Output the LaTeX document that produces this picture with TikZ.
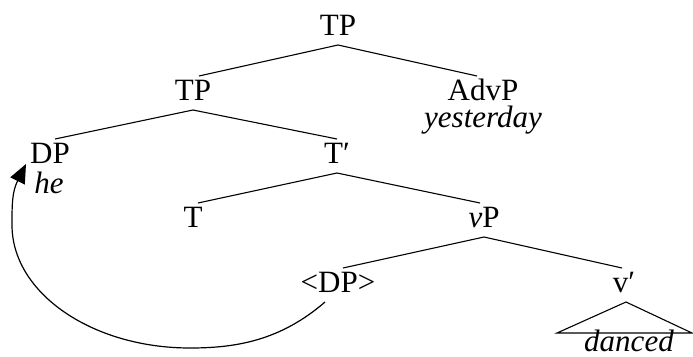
\documentclass[tikz,border=0pt]{standalone}
\usepackage{fontspec}
\setmainfont{Liberation Serif}
\usetikzlibrary{arrows.meta}
\begin{document}
\begin{tikzpicture}[x=1pt,y=-1pt,
  lab/.style={inner sep=0pt, outer sep=3pt, text height=21pt, text depth=7pt, anchor=base, font=\fontsize{31}{36}\selectfont},
  leaf/.style={lab, text depth=1pt},
  sub/.style={inner sep=0pt, anchor=base, font=\fontsize{31}{36}\selectfont\itshape},
  branch/.style={line width=1.1pt},
  move/.style={line width=1.2pt, -{Triangle[length=19pt,width=16pt]}}
]
\useasboundingbox (0,0) rectangle (693,356);
\node[lab] (tp1) at (338,35) {TP};
\node[lab] (tp2) at (193,100) {TP};
\node[leaf] (advp) at (483,100) {AdvP};
\node[sub] (yest) at (483,127) {yesterday};
\node[leaf] (dp) at (50,163) {DP};
\node[sub] (he) at (49,193) {he};
\node[lab] (tbar) at (337,163) {T′};
\node[leaf] (t) at (193,227) {T};
\node[lab] (vp) at (484,227) {\textit{v}P};
\node[leaf] (dpt) at (338,292) {<DP>};
\node[lab] (vbar) at (624,292) {v′};
\node[sub] (danced) at (629,351) {danced};
\draw[branch] (tp1.south) -- ([xshift=6pt]tp2.north);
\draw[branch] (tp1.south) -- ([xshift=-6pt]advp.north);
\draw[branch] (tp2.south) -- ([xshift=5pt]dp.north);
\draw[branch] (tp2.south) -- (tbar.north);
\draw[branch] (tbar.south) -- ([xshift=5pt]t.north);
\draw[branch] (tbar.south) -- ([xshift=-4pt]vp.north);
\draw[branch] (vp.south) -- ([xshift=5pt]dpt.north);
\draw[branch] (vp.south) -- ([xshift=-2pt]vbar.north);
\coordinate (tl) at (557,333);
\coordinate (tr) at (692,333);
\draw[branch] ([xshift=2pt]vbar.south) -- (tl) -- (tr) -- cycle;
\coordinate (start) at (325,302);
\coordinate (tip) at (26,164);
\draw[move] (start) .. controls (280,341) and (235,348) .. (190,348) .. controls (92,348) and (12,293) .. (12,225) .. controls (12,205) and (12,192) .. (tip);
\end{tikzpicture}
\end{document}
